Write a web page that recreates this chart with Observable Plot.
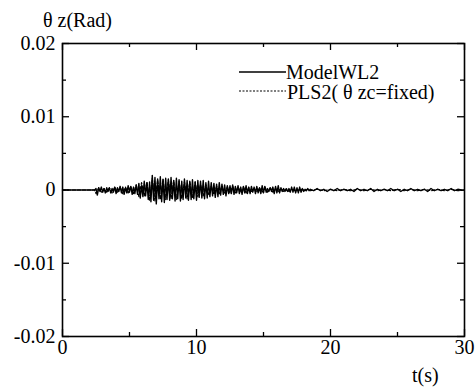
<!DOCTYPE html>
<html><head><meta charset="utf-8">
<script src="https://cdn.jsdelivr.net/npm/d3@7"></script>
<script src="https://cdn.jsdelivr.net/npm/@observablehq/plot@0.6"></script>
<style>
body{margin:0;background:#fff;} svg{display:block;}
</style>
</head><body><div id="chart"></div>
<script>
// ---- data ----
const xTicks = [0, 10, 20, 30];
const xMinor = [5, 15, 25];
const yTicks = [0.02, 0.01, 0, -0.01, -0.02];
const yTickLabels = ["0.02", "0.01", "0", "-0.01", "-0.02"];
const yMinor = [0.015, 0.005, -0.005, -0.015];
const seriesNames = ["ModelWL2", "PLS2( \u03b8 zc=fixed)"];
const yTitle = "\u03b8 z(Rad)";
const xTitle = "t(s)";

// ModelWL2: quiet lead-in, then samples every 0.1 s from 2.5 s, then a tail every 0.25 s
const modelLeadT = [0, 1, 2, 2.4];
const modelLeadV = [0, 0, 0, 0];
const modelStart = 2.5, modelStep = 0.1;
const modelValues = [
  0.0002,-0.0007,0.0003,-0.0002,0.0004,-0.0003,0.0002,-0.0004,0.0003,-0.0002,
  0.0003,-0.0004,0.0002,-0.0003,0.0004,-0.0005,0.0003,-0.0002,0.0005,-0.0004,
  0.0004,-0.0006,0.0003,-0.0004,0.0006,-0.0003,0.0005,-0.0006,0.0004,-0.0005,
  0.0007,-0.0006,0.0009,-0.0011,0.0006,-0.0009,0.0012,-0.0008,0.0010,-0.0013,
  0.0011,-0.0016,0.0020,-0.0014,0.0017,-0.0019,0.0015,-0.0012,0.0018,-0.0016,
  0.0014,-0.0017,0.0016,-0.0013,0.0015,-0.0014,0.0017,-0.0012,0.0013,-0.0015,
  0.0016,-0.0012,0.0014,-0.0015,0.0012,-0.0013,0.0015,-0.0011,0.0013,-0.0014,
  0.0012,-0.0013,0.0014,-0.0012,0.0011,-0.0014,0.0013,-0.0010,0.0012,-0.0011,
  0.0013,-0.0012,0.0010,-0.0011,0.0012,-0.0009,0.0010,-0.0008,0.0009,-0.0010,
  0.0008,-0.0009,0.0010,-0.0007,0.0008,-0.0006,0.0007,-0.0008,0.0006,-0.0005,
  0.0006,-0.0005,0.0007,-0.0006,0.0005,-0.0004,0.0006,-0.0005,0.0004,-0.0006,
  0.0005,-0.0004,0.0006,-0.0005,0.0004,-0.0005,0.0005,-0.0003,0.0004,-0.0005,
  0.0005,-0.0004,0.0003,-0.0005,0.0006,-0.0004,0.0005,-0.0003,0.0002,-0.0002,
  0.0003,-0.0002,0.0004,-0.0005,0.0005,-0.0004,0.0006,-0.0004,0.0003,-0.0002,
  0.0002,-0.0002,0.0001,-0.0002,0.0002,-0.0003,0.0004,-0.0003,0.0004,-0.0004,
  0.0003,-0.0004,0.0004,-0.0003,0.0002,-0.0002,0.0001,-0.0001,0.0002,-0.0001
];
const modelTailStart = 18.5, modelTailStep = 0.25;
const modelTail = [
  0.0001,-0.0001,0.0002,-0.0001,0.0001,-0.0002,0.0001,-0.0001,0.0002,-0.0001,
  0.0001,-0.0001,0.0001,-0.0002,0.0002,-0.0001,0.0001,-0.0001,0.0002,-0.0002,
  0.0001,-0.0001,0.0001,-0.0001,0.0002,-0.0001,0.0001,-0.0002,0.0001,-0.0001,
  0.0002,-0.0001,0.0001,-0.0001,0.0001,-0.0002,0.0002,-0.0001,0.0001,-0.0001,
  0.0001,-0.0001,0.0002,-0.0001,0.0001,0
];

// PLS2 (dashed): samples every 0.2 s from 2.5 s, then a tail every 0.5 s
const plsLeadT = [0, 1.2, 2.4];
const plsLeadV = [0, 0, 0];
const plsStart = 2.5, plsStep = 0.2;
const plsValues = [
  -0.0005,0.0003,-0.0003,0.0002,-0.0003,0.0003,-0.0004,0.0004,-0.0003,0.0004,
  -0.0005,0.0004,-0.0004,0.0005,-0.0005,0.0007,-0.0009,0.0010,-0.0008,0.0011,
  -0.0014,0.0016,-0.0015,0.0014,-0.0013,0.0015,-0.0013,0.0014,-0.0012,0.0013,
  -0.0013,0.0012,-0.0012,0.0011,-0.0012,0.0011,-0.0010,0.0011,-0.0009,0.0008,
  -0.0008,0.0007,-0.0006,0.0005,-0.0006,0.0005,-0.0005,0.0004,-0.0005,0.0004,
  -0.0004,0.0005,-0.0004,0.0004,-0.0003,0.0004,-0.0004,0.0003,-0.0002,0.0002,
  -0.0002,0.0003,-0.0003,0.0004,-0.0003,0.0003,-0.0003,0.0002,-0.0002,0.0002,
  -0.0002,0.0002,-0.0002,0.0001,-0.0001,0.0001,-0.0001,0.0001,-0.0001,0.0001
];
const plsTailStart = 18.5, plsTailStep = 0.5;
const plsTail = [
  -0.0001,0.0001,-0.0001,0.0001,-0.0001,0.0001,-0.0001,0.0001,-0.0001,0.0001,
  -0.0001,0.0001,-0.0001,0.0001,-0.0001,0.0001,-0.0001,0.0001,-0.0001,0.0001,
  -0.0001,0.0001,-0.0001,0
];

// ---- build rows ----
function build(leadT, leadV, start, step, vals, tStart, tStep, tail) {
  const rows = leadT.map((t, i) => ({t, v: leadV[i]}));
  vals.forEach((v, i) => rows.push({t: +(start + i * step).toFixed(3), v}));
  tail.forEach((v, i) => rows.push({t: +(tStart + i * tStep).toFixed(3), v}));
  return rows;
}
const model = build(modelLeadT, modelLeadV, modelStart, modelStep, modelValues, modelTailStart, modelTailStep, modelTail);
const pls = build(plsLeadT, plsLeadV, plsStart, plsStep, plsValues, plsTailStart, plsTailStep, plsTail);

const W = 476, H = 391, mL = 62, mR = 12, mT = 43, mB = 55;
const ky = 0.04 / (H - mT - mB);   // data units per px (y)
const kx = 30 / (W - mL - mR);     // data units per px (x)
const MAJ = 7, MIN = 4;
const FS = 20;
const FONT = "Liberation Serif";
const tickStyle = {stroke: "#000", strokeWidth: 1.3};

const chart = Plot.plot({
  width: W, height: H,
  marginLeft: mL, marginRight: mR, marginTop: mT, marginBottom: mB,
  x: {domain: [0, 30]},
  y: {domain: [-0.02, 0.02]},
  style: {fontFamily: "'Liberation Serif'", fontSize: FS + "px", color: "#000", background: "#fff"},
  marks: [
    Plot.line(pls, {x: "t", y: "v", stroke: "#000", strokeWidth: 1.2, strokeDasharray: "3,2"}),
    Plot.line(model, {x: "t", y: "v", stroke: "#000", strokeWidth: 1.4}),
    // inward ticks: bottom/top
    Plot.ruleX(xTicks, {x: d => d, y1: -0.02, y2: -0.02 + MAJ * ky, ...tickStyle}),
    Plot.ruleX(xMinor, {x: d => d, y1: -0.02, y2: -0.02 + MIN * ky, ...tickStyle}),
    Plot.ruleX(xTicks, {x: d => d, y1: 0.02, y2: 0.02 - MAJ * ky, ...tickStyle}),
    Plot.ruleX(xMinor, {x: d => d, y1: 0.02, y2: 0.02 - MIN * ky, ...tickStyle}),
    // inward ticks: left/right
    Plot.ruleY(yTicks, {y: d => d, x1: 0, x2: MAJ * kx, ...tickStyle}),
    Plot.ruleY(yMinor, {y: d => d, x1: 0, x2: MIN * kx, ...tickStyle}),
    Plot.ruleY(yTicks, {y: d => d, x1: 30, x2: 30 - MAJ * kx, ...tickStyle}),
    Plot.ruleY(yMinor, {y: d => d, x1: 30, x2: 30 - MIN * kx, ...tickStyle}),
    Plot.frame({stroke: "#000", strokeWidth: 1.6}),
    Plot.axisX({ticks: xTicks, tickSize: 0, tickPadding: 3, tickFormat: d => String(d), label: null, fontSize: FS, fontFamily: FONT}),
    Plot.axisY({ticks: yTicks, tickSize: 0, tickPadding: 7, tickFormat: d => yTickLabels[yTicks.indexOf(d)], label: null, fontSize: FS, fontFamily: FONT})
  ]
});

document.getElementById("chart").appendChild(chart);

// titles and legend (annotation text)
const svg = d3.select(chart);
function addText(x, y, s) {
  return svg.append("text").attr("x", x).attr("y", y).attr("font-size", FS)
    .attr("font-family", FONT).attr("fill", "#000").attr("text-anchor", "start").text(s);
}
addText(43, 27, yTitle);
addText(412, 382, xTitle);
svg.append("line").attr("x1", 239).attr("x2", 286).attr("y1", 72).attr("y2", 72).attr("stroke", "#000").attr("stroke-width", 1.3);
addText(286, 79, seriesNames[0]);
svg.append("line").attr("x1", 239).attr("x2", 286).attr("y1", 91).attr("y2", 91).attr("stroke", "#000").attr("stroke-width", 1.2).attr("stroke-dasharray", "2,1.5");
addText(287, 99, seriesNames[1]);
</script></body></html>
